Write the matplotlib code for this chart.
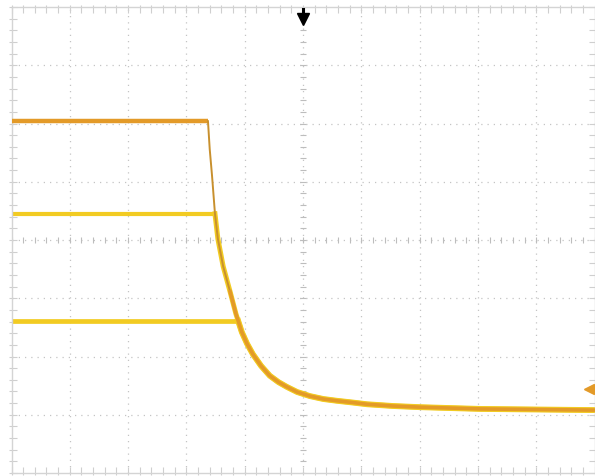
"""Scope capture: step-down decay, three channels overlaid."""
import numpy as np
import matplotlib
matplotlib.use("Agg")
import matplotlib.pyplot as plt

ch1_level = 6.04      # orange trace, flat part
ch2_level = 4.45      # upper yellow trace
ch3_level = 2.61      # lower yellow trace

# shared falling edge / decay (x div, y div)
decay_x = [3.37, 3.40, 3.44, 3.49, 3.54, 3.63, 3.75, 3.85, 3.95, 4.04, 4.14,
           4.28, 4.43, 4.58, 4.72, 4.90, 5.12, 5.35, 5.58, 5.85, 6.10, 6.55,
           7.01, 8.04, 9.99]
decay_y = [6.04, 5.56, 5.10, 4.45, 4.02, 3.55, 3.11, 2.73, 2.42, 2.22, 2.04,
           1.84, 1.67, 1.56, 1.48, 1.39, 1.32, 1.27, 1.24, 1.21, 1.18, 1.15,
           1.13, 1.10, 1.08]

trigger_x = 5.0       # trigger arrow at top
level_marker = 1.44   # orange level arrow on right edge

ORANGE = "#E39A28"
YELLOW = "#F2CB22"
GRID = "#C4C4C4"

fig = plt.figure(figsize=(5.95, 4.77), dpi=100)
ax = fig.add_axes([11.5 / 595, 3 / 477, 583 / 595, 466 / 477])
ax.set_xlim(0, 10)
ax.set_ylim(0, 8)
ax.set_xticks([])
ax.set_yticks([])
for sp in ax.spines.values():
    sp.set_color("#D4D4D4")
    sp.set_linewidth(1.0)

# graticule
for gx in range(1, 10):
    ax.axvline(gx, color=GRID, lw=0.9, ls=(0, (1, 4)), zorder=0)
for gy in range(1, 8):
    ax.axhline(gy, color=GRID, lw=0.9, ls=(0, (1, 4)), zorder=0)
minor_x = np.arange(0, 10.01, 0.2)
minor_y = np.arange(0, 8.01, 0.2)
ax.plot(minor_x, np.full_like(minor_x, 4), ls="none", marker="|", ms=5,
        mew=0.8, color="#BDBDBD", zorder=0)
ax.plot(np.full_like(minor_y, 5), minor_y, ls="none", marker="_", ms=5,
        mew=0.8, color="#BDBDBD", zorder=0)
for yy in (0.03, 7.97):
    ax.plot(minor_x, np.full_like(minor_x, yy), ls="none", marker="|", ms=6,
            mew=0.8, color="#CFCFCF", zorder=0, clip_on=False)
for xx in (0.02, 9.98):
    ax.plot(np.full_like(minor_y, xx), minor_y, ls="none", marker="_", ms=6,
            mew=0.8, color="#CFCFCF", zorder=0, clip_on=False)

dx = np.array(decay_x)
dy = np.array(decay_y)


def trace(level, color, lw_flat, lw_tail, z):
    # flat line up to where it meets the decay, then follow the decay
    xi = np.interp(-level, -dy, dx)
    keep = dx > xi
    ax.plot([0, xi], [level, level], color=color, lw=lw_flat,
            solid_capstyle="butt", zorder=z)
    ax.plot(np.r_[xi, dx[keep]], np.r_[level, dy[keep]], color=color,
            lw=lw_tail, zorder=z, solid_joinstyle="round")


trace(ch3_level, YELLOW, 3.4, 4.2, 2)
trace(ch2_level, YELLOW, 3.0, 3.6, 2)
# orange: thin on the steep edge, thicker on the slow tail
ax.plot([0, dx[0]], [ch1_level, ch1_level], color=ORANGE, lw=3.2,
        solid_capstyle="butt", zorder=3)
ax.plot(dx[:7], dy[:7], color="#C8902E", lw=1.4, zorder=3)
ax.plot(dx[6:], dy[6:], color=ORANGE, lw=2.6, zorder=3,
        solid_joinstyle="round")

# trigger marker: stem plus down-pointing head
ax.plot([trigger_x, trigger_x], [7.97, 7.82], color="black", lw=2.2,
        zorder=5, clip_on=False)
ax.plot([trigger_x], [7.79], ls="none", marker="v", ms=8, color="black",
        zorder=5, clip_on=False)
# channel level marker on right edge
ax.plot([9.93, 9.99], [level_marker, level_marker], color=ORANGE, lw=2.2,
        zorder=5, clip_on=False)
ax.plot([9.90], [level_marker], ls="none", marker="<", ms=7, color=ORANGE,
        zorder=5, clip_on=False)

fig.savefig("out.png", dpi=100)
